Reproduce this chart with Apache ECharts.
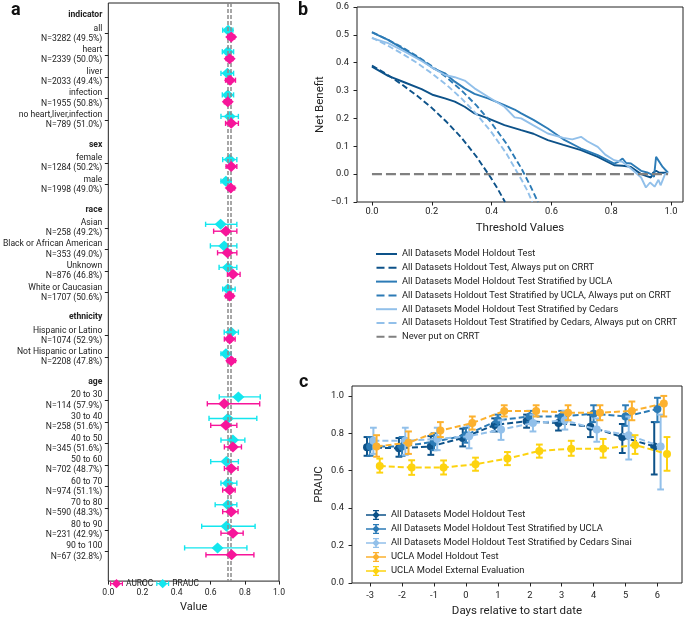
<!DOCTYPE html>
<html><head><meta charset="utf-8">
<script src="https://cdn.jsdelivr.net/npm/echarts@6/dist/echarts.min.js"></script>
<style>html,body{margin:0;padding:0;background:#fff}#c{width:684px;height:618px}</style>
</head><body><div id="c"></div>
<script>
// ---------- Panel a data ----------
const groupNames = ['indicator', 'sex', 'race', 'ethnicity', 'age'];
const rowNames = ['all', 'heart', 'liver', 'infection', 'no heart,liver,infection',
  'female', 'male',
  'Asian', 'Black or African American', 'Unknown', 'White or Caucasian',
  'Hispanic or Latino', 'Not Hispanic or Latino',
  '20 to 30', '30 to 40', '40 to 50', '50 to 60', '60 to 70', '70 to 80', '80 to 90', '90 to 100'];
const rowGroup = [0, 0, 0, 0, 0, 1, 1, 2, 2, 2, 2, 3, 3, 4, 4, 4, 4, 4, 4, 4, 4];
const rowCounts = [3282, 2339, 2033, 1955, 789, 1284, 1998, 258, 353, 876, 1707, 1074, 2208, 114, 258, 345, 702, 974, 590, 231, 67];
const rowPercents = [49.5, 50.0, 49.4, 50.8, 51.0, 50.2, 49.0, 49.2, 49.0, 46.8, 50.6, 52.9, 47.8, 57.9, 51.6, 51.6, 48.7, 51.1, 48.3, 42.9, 32.8];
const aurocVal = [0.720, 0.711, 0.713, 0.700, 0.720, 0.720, 0.717, 0.689, 0.698, 0.730, 0.711, 0.711, 0.720, 0.679, 0.689, 0.730, 0.720, 0.711, 0.720, 0.730, 0.722];
const aurocLo  = [0.700, 0.690, 0.687, 0.680, 0.687, 0.690, 0.700, 0.617, 0.640, 0.698, 0.687, 0.680, 0.697, 0.580, 0.600, 0.680, 0.680, 0.670, 0.670, 0.660, 0.572];
const aurocHi  = [0.740, 0.730, 0.745, 0.720, 0.762, 0.753, 0.740, 0.753, 0.753, 0.772, 0.733, 0.743, 0.745, 0.887, 0.753, 0.780, 0.760, 0.743, 0.760, 0.790, 0.853];
const praucVal = [0.702, 0.700, 0.698, 0.700, 0.711, 0.711, 0.689, 0.658, 0.679, 0.700, 0.700, 0.720, 0.689, 0.762, 0.700, 0.730, 0.692, 0.700, 0.700, 0.692, 0.640];
const praucLo  = [0.670, 0.668, 0.660, 0.668, 0.660, 0.670, 0.660, 0.570, 0.598, 0.649, 0.670, 0.679, 0.660, 0.650, 0.590, 0.660, 0.600, 0.660, 0.626, 0.547, 0.447];
const praucHi  = [0.730, 0.734, 0.734, 0.734, 0.762, 0.753, 0.720, 0.753, 0.753, 0.753, 0.743, 0.762, 0.720, 0.890, 0.870, 0.800, 0.762, 0.753, 0.753, 0.860, 0.812];
const refLines = [0.70, 0.72];
const valueTicks = [0, 0.2, 0.4, 0.6, 0.8, 1.0];

// ---------- Panel b data ----------
const thrTicks = [0, 0.2, 0.4, 0.6, 0.8, 1.0];
const allModelX = [0, 0.054, 0.11, 0.166, 0.205, 0.244, 0.277, 0.31, 0.343, 0.388, 0.443, 0.499, 0.54, 0.588, 0.64, 0.699, 0.755, 0.81, 0.838, 0.866, 0.9, 0.916, 0.933, 0.94, 0.95, 0.961, 0.99];
const allModelY = [0.386, 0.353, 0.329, 0.305, 0.284, 0.272, 0.26, 0.242, 0.218, 0.2, 0.176, 0.158, 0.145, 0.122, 0.105, 0.086, 0.062, 0.032, 0.03, 0.026, 0.0, -0.006, -0.012, 0.005, 0.012, 0.005, 0.005];
const allTreatX = [0, 0.05, 0.1, 0.15, 0.2, 0.25, 0.3, 0.35, 0.4, 0.42, 0.445];
const allTreatY = [0.39, 0.358, 0.322, 0.282, 0.238, 0.187, 0.13, 0.062, -0.017, -0.052, -0.1];
const uclaModelX = [0, 0.054, 0.11, 0.166, 0.205, 0.244, 0.277, 0.31, 0.343, 0.388, 0.443, 0.477, 0.499, 0.54, 0.588, 0.64, 0.699, 0.755, 0.81, 0.825, 0.838, 0.85, 0.866, 0.9, 0.92, 0.933, 0.943, 0.95, 0.972, 0.99];
const uclaModelY = [0.509, 0.482, 0.446, 0.41, 0.38, 0.362, 0.332, 0.308, 0.288, 0.272, 0.248, 0.232, 0.218, 0.195, 0.164, 0.125, 0.092, 0.068, 0.038, 0.045, 0.056, 0.04, 0.038, 0.012, 0.006, 0.0, -0.01, 0.062, 0.026, 0.005];
const uclaTreatX = [0, 0.05, 0.1, 0.15, 0.2, 0.25, 0.3, 0.35, 0.4, 0.45, 0.5, 0.53, 0.555];
const uclaTreatY = [0.51, 0.484, 0.456, 0.424, 0.388, 0.347, 0.30, 0.246, 0.183, 0.109, 0.02, -0.043, -0.1];
const cedarsModelX = [0, 0.054, 0.11, 0.166, 0.205, 0.244, 0.277, 0.31, 0.343, 0.388, 0.443, 0.477, 0.499, 0.54, 0.588, 0.64, 0.67, 0.699, 0.72, 0.755, 0.78, 0.81, 0.838, 0.866, 0.9, 0.916, 0.93, 0.945, 0.958, 0.965, 0.98, 0.99];
const cedarsModelY = [0.488, 0.47, 0.44, 0.406, 0.38, 0.356, 0.348, 0.336, 0.308, 0.278, 0.242, 0.204, 0.2, 0.175, 0.146, 0.13, 0.125, 0.134, 0.118, 0.098, 0.07, 0.05, 0.044, 0.02, -0.012, -0.048, -0.03, -0.045, -0.02, -0.04, 0.0, 0.005];
const cedarsTreatX = [0, 0.05, 0.1, 0.15, 0.2, 0.25, 0.3, 0.35, 0.4, 0.45, 0.5, 0.52, 0.536];
const cedarsTreatY = [0.49, 0.463, 0.433, 0.40, 0.362, 0.32, 0.271, 0.215, 0.15, 0.073, -0.02, -0.06, -0.1];
const neverX = [0, 0.99];
const neverY = [0, 0];
const nbNames = ['All Datasets Model Holdout Test', 'All Datasets Holdout Test, Always put on CRRT',
  'All Datasets Model Holdout Test Stratified by UCLA', 'All Datasets Holdout Test Stratified by UCLA, Always put on CRRT',
  'All Datasets Model Holdout Test Stratified by Cedars', 'All Datasets Holdout Test Stratified by Cedars, Always put on CRRT',
  'Never put on CRRT'];

// ---------- Panel c data ----------
const days = [-3, -2, -1, 0, 1, 2, 3, 4, 5, 6];
const prNames = ['All Datasets Model Holdout Test', 'All Datasets Model Holdout Test Stratified by UCLA',
  'All Datasets Model Holdout Test Stratified by Cedars Sinai', 'UCLA Model Holdout Test', 'UCLA Model External Evaluation'];
const prOffsets = [-0.1, 0, 0.1, 0.2, 0.3];
const prDark   = [0.725, 0.72, 0.73, 0.775, 0.845, 0.865, 0.855, 0.835, 0.78, 0.73];
const prDarkLo = [0.68, 0.675, 0.685, 0.73, 0.81, 0.83, 0.815, 0.78, 0.695, 0.58];
const prDarkHi = [0.78, 0.775, 0.785, 0.825, 0.88, 0.90, 0.895, 0.90, 0.85, 0.86];
const prMed    = [0.73, 0.73, 0.755, 0.79, 0.87, 0.89, 0.89, 0.905, 0.89, 0.93];
const prMedLo  = [0.68, 0.68, 0.71, 0.75, 0.84, 0.86, 0.86, 0.86, 0.84, 0.86];
const prMedHi  = [0.78, 0.78, 0.80, 0.83, 0.90, 0.92, 0.92, 0.95, 0.95, 0.99];
const prLight  = [0.76, 0.76, 0.77, 0.785, 0.82, 0.855, 0.87, 0.82, 0.79, 0.73];
const prLightLo= [0.69, 0.685, 0.71, 0.72, 0.765, 0.81, 0.82, 0.755, 0.66, 0.50];
const prLightHi= [0.83, 0.83, 0.83, 0.84, 0.87, 0.90, 0.92, 0.88, 0.89, 0.90];
const prOrange = [0.73, 0.75, 0.815, 0.855, 0.92, 0.92, 0.91, 0.91, 0.92, 0.96];
const prOrangeLo=[0.675, 0.69, 0.78, 0.82, 0.89, 0.89, 0.87, 0.87, 0.87, 0.89];
const prOrangeHi=[0.79, 0.81, 0.86, 0.89, 0.95, 0.95, 0.95, 0.95, 0.97, 1.0];
const prYellow = [0.625, 0.617, 0.617, 0.635, 0.665, 0.706, 0.718, 0.717, 0.738, 0.69];
const prYellowLo=[0.59, 0.578, 0.58, 0.60, 0.63, 0.67, 0.68, 0.67, 0.69, 0.60];
const prYellowHi=[0.665, 0.656, 0.655, 0.67, 0.70, 0.74, 0.76, 0.77, 0.79, 0.78];
const prauTicks = [0, 0.2, 0.4, 0.6, 0.8, 1.0];

// ---------- styling ----------
const FONT = 'Roboto';
const INK = '#222';
const cDark = '#0d5289', cMed = '#2c7bb6', cLight = '#92c0ea', cOrange = '#fcb12f', cYellow = '#fdd30f';
const cGray = '#808080', cCyan = '#13e6ee', cPink = '#f7159a';

// slots for panel a
const labelMap = {};
const headerSlots = [], rowSlots = [];
let s = 0, lastG = -1;
const rowPos = [];
rowNames.forEach((nm, i) => {
  if (rowGroup[i] !== lastG) {
    lastG = rowGroup[i];
    const hp = s + 0.15;
    headerSlots.push(hp);
    labelMap[Math.round(hp * 100)] = '{h|' + groupNames[lastG] + '}';
    s++;
  }
  rowPos.push(s);
  rowSlots.push(s);
  labelMap[Math.round(s * 100)] = '{r|' + nm + '}\n{r|N=' + rowCounts[i] + ' (' + rowPercents[i].toFixed(1) + '%)}';
  s++;
});
const allLabelSlots = headerSlots.concat(rowSlots).sort((a, b) => a - b);

function hErr(color) {
  return function (params, api) {
    const y = api.value(2);
    const p1 = api.coord([api.value(0), y]), p2 = api.coord([api.value(1), y]);
    const h = 2.6, st = { stroke: color, lineWidth: 1.4 };
    return { type: 'group', children: [
      { type: 'line', shape: { x1: p1[0], y1: p1[1], x2: p2[0], y2: p2[1] }, style: st },
      { type: 'line', shape: { x1: p1[0], y1: p1[1] - h, x2: p1[0], y2: p1[1] + h }, style: st },
      { type: 'line', shape: { x1: p2[0], y1: p2[1] - h, x2: p2[0], y2: p2[1] + h }, style: st }
    ] };
  };
}
function vErr(color) {
  return function (params, api) {
    const x = api.value(0);
    const p1 = api.coord([x, api.value(1)]), p2 = api.coord([x, api.value(2)]);
    const w = 3.4, st = { stroke: color, lineWidth: 2 };
    return { type: 'group', children: [
      { type: 'line', shape: { x1: p1[0], y1: p1[1], x2: p2[0], y2: p2[1] }, style: st },
      { type: 'line', shape: { x1: p1[0] - w, y1: p1[1], x2: p1[0] + w, y2: p1[1] }, style: st },
      { type: 'line', shape: { x1: p2[0] - w, y1: p2[1], x2: p2[0] + w, y2: p2[1] }, style: st }
    ] };
  };
}

function tick(extra) { return Object.assign({ show: true, length: 3.5, lineStyle: { color: INK, width: 1 } }, extra || {}); }
function noLine() { return { show: false, onZero: false }; }
const gridStyle = { show: true, borderColor: INK, borderWidth: 1, backgroundColor: 'transparent' };

const series = [];
// panel a
const praucBar = rowNames.map((_, i) => [praucLo[i], praucHi[i], rowPos[i] - 0.16]);
const aurocBar = rowNames.map((_, i) => [aurocLo[i], aurocHi[i], rowPos[i] + 0.16]);
series.push({
  type: 'line', name: 'refA', xAxisIndex: 0, yAxisIndex: 0, data: [], silent: true,
  markLine: { silent: true, symbol: 'none', label: { show: false },
    lineStyle: { color: '#8a8a8a', width: 1.5, type: [4, 2] },
    data: refLines.map(v => ({ xAxis: v })) }
});
series.push({ type: 'custom', name: 'praucErr', xAxisIndex: 0, yAxisIndex: 0, renderItem: hErr(cCyan), data: praucBar, encode: { x: [0, 1], y: 2 }, z: 3 });
series.push({ type: 'scatter', name: 'PRAUC', xAxisIndex: 0, yAxisIndex: 0, symbol: 'diamond', symbolSize: [12, 11],
  itemStyle: { color: cCyan, opacity: 1 }, data: rowNames.map((_, i) => [praucVal[i], rowPos[i] - 0.16]), z: 4 });
series.push({ type: 'custom', name: 'aurocErr', xAxisIndex: 0, yAxisIndex: 0, renderItem: hErr(cPink), data: aurocBar, encode: { x: [0, 1], y: 2 }, z: 5 });
series.push({ type: 'scatter', name: 'AUROC', xAxisIndex: 0, yAxisIndex: 0, symbol: 'diamond', symbolSize: [12, 11],
  itemStyle: { color: cPink, opacity: 1 }, data: rowNames.map((_, i) => [aurocVal[i], rowPos[i] + 0.16]), z: 6 });

// panel b
const nbX = [allModelX, allTreatX, uclaModelX, uclaTreatX, cedarsModelX, cedarsTreatX, neverX];
const nbY = [allModelY, allTreatY, uclaModelY, uclaTreatY, cedarsModelY, cedarsTreatY, neverY];
const nbColors = [cDark, cDark, cMed, cMed, cLight, cLight, cGray];
const nbDashed = [false, true, false, true, false, true, true];
nbNames.forEach((nm, k) => {
  series.push({ type: 'line', name: nm, xAxisIndex: 1, yAxisIndex: 1, symbol: 'none', showSymbol: false,
    data: nbX[k].map((x, i) => [x, nbY[k][i]]),
    lineStyle: { color: nbColors[k], width: k === 6 ? 2.2 : 1.9, type: nbDashed[k] ? (k === 6 ? [10, 4] : [6, 3]) : 'solid' },
    itemStyle: { color: nbColors[k] }, z: 2 + k });
});

// panel c
const prVals = [prDark, prMed, prLight, prOrange, prYellow];
const prLo = [prDarkLo, prMedLo, prLightLo, prOrangeLo, prYellowLo];
const prHi = [prDarkHi, prMedHi, prLightHi, prOrangeHi, prYellowHi];
const prColors = [cDark, cMed, cLight, cOrange, cYellow];
prNames.forEach((nm, k) => {
  series.push({ type: 'custom', name: 'err' + k, xAxisIndex: 2, yAxisIndex: 2, renderItem: vErr(prColors[k]),
    data: days.map((d, i) => [d + prOffsets[k], prLo[k][i], prHi[k][i]]), encode: { x: 0, y: [1, 2] }, z: 2 + 2 * k });
  series.push({ type: 'line', name: 'c' + k, xAxisIndex: 2, yAxisIndex: 2, symbol: 'circle', symbolSize: 8,
    data: days.map((d, i) => [d + prOffsets[k], prVals[k][i]]),
    lineStyle: { color: prColors[k], width: 2, type: [6, 3] }, itemStyle: { color: prColors[k] }, z: 3 + 2 * k });
});

const errIcon = 'path://M0,4.2H20V5.8H0Z M9.2,0H10.8V10H9.2Z M7,0H13V1.2H7Z M7,8.8H13V10H7Z M10,1.2L13.8,5L10,8.8L6.2,5Z';
const diaIcon = 'path://M0,4.3H14V5.7H0Z M0,2.4H1.3V7.6H0Z M12.7,2.4H14V7.6H12.7Z M7,0L12,5L7,10L2,5Z';
const solidIcon = 'path://M0,0H21V2H0Z';
const dashIcon = 'path://M0,0H8V2H0Z M12,0H20V2H12Z';

const option = {
  animation: false,
  textStyle: { fontFamily: FONT },
  graphic: [
    { type: 'text', left: 11, top: 1, style: { text: 'a', font: 'bold 18px Roboto', fill: '#111' } },
    { type: 'text', left: 298, top: 1, style: { text: 'b', font: 'bold 18px Roboto', fill: '#111' } },
    { type: 'text', left: 299, top: 373, style: { text: 'c', font: 'bold 18px Roboto', fill: '#111' } }
  ],
  grid: [
    Object.assign({ left: 103, top: 3, width: 176, height: 585 }, gridStyle),
    Object.assign({ left: 357, top: 7, width: 326, height: 195 }, gridStyle),
    Object.assign({ left: 352, top: 386, width: 330, height: 197 }, gridStyle)
  ],
  xAxis: [
    { type: 'value', gridIndex: 0, min: 0, max: 1, interval: 0.2, axisLine: noLine(), splitLine: { show: false },
      axisTick: tick(), axisLabel: { color: INK, fontSize: 8.6, margin: 7, formatter: v => v.toFixed(1) },
      name: 'Value', nameLocation: 'middle', nameGap: 18, nameTextStyle: { color: INK, fontSize: 11 } },
    { type: 'value', gridIndex: 1, min: -0.05, max: 1.04, axisLine: noLine(), splitLine: { show: false },
      axisTick: tick({ customValues: thrTicks }),
      axisLabel: { color: INK, fontSize: 9.3, margin: 5, customValues: thrTicks, formatter: v => v.toFixed(1) },
      name: 'Threshold Values', nameLocation: 'middle', nameGap: 20, nameTextStyle: { color: INK, fontSize: 11.5 } },
    { type: 'value', gridIndex: 2, min: -3.57, max: 6.77, axisLine: noLine(), splitLine: { show: false },
      axisTick: tick({ customValues: days }),
      axisLabel: { color: INK, fontSize: 9.3, margin: 8, customValues: days, formatter: v => String(Math.round(v)) },
      name: 'Days relative to start date', nameLocation: 'middle', nameGap: 22, nameTextStyle: { color: INK, fontSize: 11.5 } }
  ],
  yAxis: [
    { type: 'value', gridIndex: 0, inverse: true, min: -0.42, max: 26.38, axisLine: noLine(), splitLine: { show: false },
      axisTick: tick({ customValues: rowSlots }),
      axisLabel: { customValues: allLabelSlots, margin: 6, color: INK,
        formatter: v => labelMap[Math.round(v * 100)] || '',
        rich: { h: { fontWeight: 'bold', fontSize: 8.6, color: INK, align: 'right' },
                r: { fontSize: 8.6, lineHeight: 10.2, color: INK, align: 'right' } } } },
    { type: 'value', gridIndex: 1, min: -0.1, max: 0.6, interval: 0.1, axisLine: noLine(), splitLine: { show: false },
      axisTick: tick(), axisLabel: { color: INK, fontSize: 9.3, margin: 8, formatter: v => (v < 0 ? '\u2212' : '') + Math.abs(v).toFixed(1) },
      name: 'Net Benefit', nameLocation: 'middle', nameGap: 31, nameTextStyle: { color: INK, fontSize: 11.5 } },
    { type: 'value', gridIndex: 2, min: 0, max: 1.053, axisLine: noLine(), splitLine: { show: false },
      axisTick: tick({ customValues: prauTicks }),
      axisLabel: { color: INK, fontSize: 9.3, margin: 8, customValues: prauTicks, formatter: v => v.toFixed(1) },
      name: 'PRAUC', nameLocation: 'middle', nameGap: 27, nameTextStyle: { color: INK, fontSize: 11.5 } }
  ],
  legend: [
    { selectedMode: false, orient: 'horizontal', left: 105, top: 574, itemWidth: 13, itemHeight: 10, itemGap: 3,
      textStyle: { fontSize: 8.4, color: INK, padding: [0, 0, 0, -2] },
      data: [{ name: 'AUROC', icon: diaIcon }, { name: 'PRAUC', icon: diaIcon }] },
    { selectedMode: false, orient: 'vertical', left: 371, top: 244, itemWidth: 21, itemHeight: 2, itemGap: 3.8,
      textStyle: { fontSize: 9.3, color: INK, lineHeight: 10 },
      data: nbNames.map((n, k) => ({ name: n, icon: nbDashed[k] ? dashIcon : solidIcon })) },
    { selectedMode: false, orient: 'vertical', left: 361, top: 505, itemWidth: 20, itemHeight: 10, itemGap: 4,
      textStyle: { fontSize: 9.4, color: INK, lineHeight: 10 },
      formatter: n => prNames[Number(n.slice(1))],
      data: prNames.map((_, k) => ({ name: 'c' + k, icon: errIcon })) }
  ],
  series: series
};
const chart = echarts.init(document.getElementById('c'), null, { renderer: 'canvas' });
chart.setOption(option);
</script></body></html>
